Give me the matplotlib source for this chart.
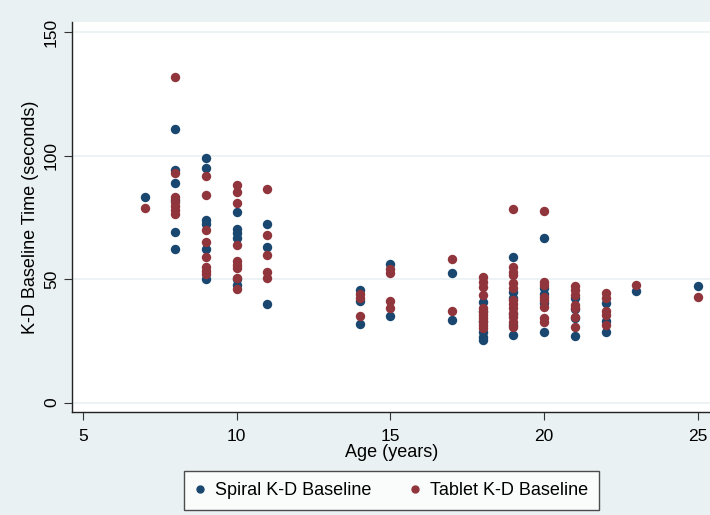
import matplotlib.pyplot as plt
from matplotlib.lines import Line2D

plt.rcParams['font.family'] = ['Liberation Sans', 'DejaVu Sans']

# Spiral K-D baseline times (seconds) by age (years)
spiral_age = [7,
              8, 8, 8, 8, 8, 8,
              9, 9, 9, 9, 9, 9,
              10, 10, 10, 10, 10, 10,
              11, 11, 11,
              14, 14, 14,
              15, 15,
              17, 17,
              18, 18, 18, 18, 18, 18,
              19, 19, 19, 19, 19, 19,
              20, 20, 20, 20, 20,
              21, 21, 21, 21,
              22, 22, 22,
              23,
              25]
spiral_time = [83.4,
               110.8, 94.2, 89.0, 82.0, 69.0, 62.3,
               99.1, 94.9, 74.0, 72.3, 62.2, 50.0,
               77.2, 70.2, 68.6, 66.6, 50.0, 47.5,
               72.3, 63.2, 40.0,
               45.6, 41.2, 31.7,
               56.0, 35.2,
               52.4, 33.5,
               40.9, 37.0, 33.0, 28.7, 26.7, 25.4,
               58.9, 44.9, 42.5, 36.0, 31.5, 27.4,
               66.8, 46.3, 44.0, 40.5, 28.7,
               42.3, 38.0, 34.2, 27.0,
               40.2, 33.1, 28.7,
               45.2,
               47.2]

# Tablet K-D baseline times (seconds) by age (years)
tablet_age = [7,
              8, 8, 8, 8, 8, 8, 8,
              9, 9, 9, 9, 9, 9, 9, 9,
              10, 10, 10, 10, 10, 10, 10, 10, 10,
              11, 11, 11, 11, 11,
              14, 14, 14,
              15, 15, 15, 15,
              17, 17,
              18, 18, 18, 18, 18, 18, 18, 18, 18, 18, 18,
              19, 19, 19, 19, 19, 19, 19, 19, 19, 19, 19, 19, 19,
              20, 20, 20, 20, 20, 20, 20, 20,
              21, 21, 21, 21, 21, 21, 21,
              22, 22, 22, 22, 22,
              23,
              25]
tablet_time = [79.0,
               131.7, 93.1, 83.2, 81.4, 79.6, 78.0, 76.4,
               91.7, 84.2, 70.0, 65.1, 58.9, 55.1, 53.5, 52.0,
               88.1, 85.4, 81.0, 63.7, 57.5, 55.7, 54.4, 50.5, 45.9,
               86.4, 67.9, 59.7, 52.8, 50.4,
               43.9, 42.3, 35.1,
               54.1, 52.4, 41.2, 38.2,
               58.1, 37.1,
               51.0, 49.0, 47.0, 43.6, 38.2, 36.8, 35.5, 34.2, 32.8, 31.5, 30.1,
               78.4, 55.1, 53.0, 51.7, 48.3, 46.3, 41.6, 40.0, 38.2, 36.4, 34.8, 32.8, 30.8,
               77.7, 49.0, 47.5, 42.9, 41.6, 38.9, 34.2, 32.8,
               47.2, 45.6, 43.6, 39.6, 38.2, 34.8, 30.8,
               44.3, 42.3, 37.2, 35.5, 31.5,
               47.7,
               42.7]

x_ticks = [5, 10, 15, 20, 25]
y_ticks = [0, 50, 100, 150]

navy = '#1A476F'
maroon = '#90353B'
bg = '#EAF1F3'

fig = plt.figure(figsize=(7.1, 5.15), dpi=100, facecolor=bg)
ax = fig.add_axes([0.1018, 0.2, 0.8982, 0.758])
ax.set_facecolor('white')

ax.scatter(spiral_age, spiral_time, s=46, color=navy, linewidths=0, zorder=3)
ax.scatter(tablet_age, tablet_time, s=46, color=maroon, linewidths=0, zorder=4)

ax.set_xlim(4.65, 25.4)
ax.set_ylim(-3.8, 154.3)
ax.set_xticks(x_ticks)
ax.set_yticks(y_ticks)
ax.tick_params(axis='both', labelsize=12.5, length=6, color='#333333')
ax.tick_params(axis='x', pad=6)
for lab in ax.get_yticklabels():
    lab.set_rotation(90)
    lab.set_va('center')

ax.grid(axis='y', color=bg, linewidth=1.2, zorder=0)
ax.set_axisbelow(True)
for side in ['top', 'right']:
    ax.spines[side].set_visible(False)
for side in ['left', 'bottom']:
    ax.spines[side].set_color('#222222')
    ax.spines[side].set_linewidth(1.0)

ax.set_xlabel('Age (years)', fontsize=13, labelpad=0)
ax.set_ylabel('K-D Baseline Time (seconds)', fontsize=13, labelpad=4)

handles = [Line2D([], [], marker='o', linestyle='none', color=navy, markersize=5),
           Line2D([], [], marker='o', linestyle='none', color=maroon, markersize=5)]
leg = fig.legend(handles, ['Spiral K-D Baseline', 'Tablet K-D Baseline'],
                 loc='center', bbox_to_anchor=(0.551, 0.047), ncol=2,
                 fontsize=13, frameon=True, fancybox=False, handlelength=0.6,
                 handletextpad=0.5, columnspacing=2.15, borderpad=0.6)
leg.get_frame().set_edgecolor('#222222')
leg.get_frame().set_linewidth(1.0)
leg.get_frame().set_facecolor('white')

fig.savefig('out.png', dpi=100, facecolor=bg)
